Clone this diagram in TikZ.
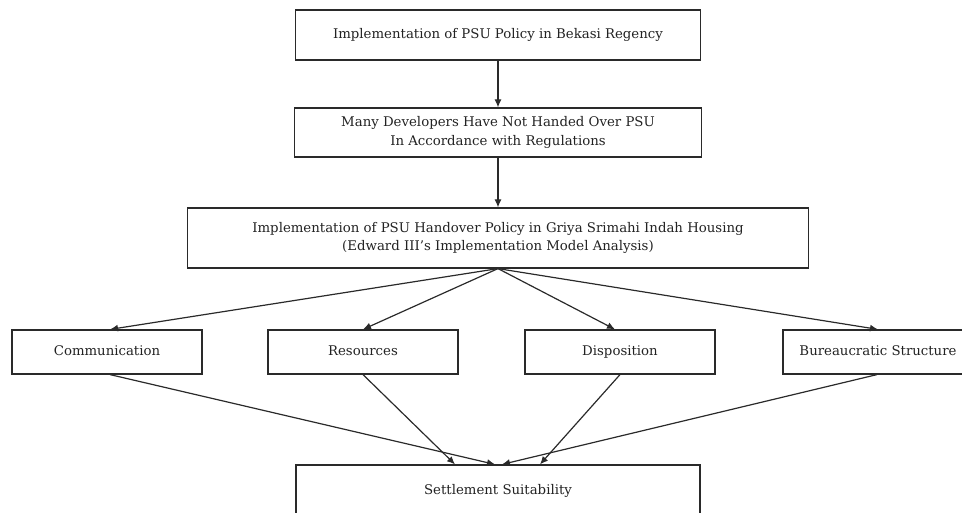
\documentclass[tikz,border=0pt]{standalone}
\usepackage{fontspec}
\setmainfont{DejaVu Serif}
\usetikzlibrary{calc,arrows.meta}
\definecolor{txt}{HTML}{222222}
\definecolor{ln}{HTML}{2A2A2A}
\tikzset{
  box/.style={draw=ln, line width=1.2pt, rectangle, inner sep=0pt, align=center,
    text=txt, font=\fontsize{13.3}{18.5}\selectfont},
  one/.style={text height=9.6pt, text depth=3pt},
  arr/.style={draw=ln, line width=1.2pt, -{Latex[length=8pt,width=7pt]}}
}
\begin{document}
\begin{tikzpicture}[x=1pt,y=-1pt]
\useasboundingbox (0,0) rectangle (962,513);
\clip (0,0) rectangle (962,513);
\node[box, one, minimum width=405pt, minimum height=50pt] (top) at (498,35) {Implementation of PSU Policy in Bekasi Regency};
\node[box, minimum width=407pt, minimum height=49pt] (dev) at (498,132.5) {Many Developers Have Not Handed Over PSU\\In Accordance with Regulations};
\node[box, minimum width=621pt, minimum height=60pt] (impl) at (498,238) {Implementation of PSU Handover Policy in Griya Srimahi Indah Housing\\(Edward III's Implementation Model Analysis)};
\node[box, one, minimum width=190pt, minimum height=44pt] (comm) at (107,352) {Communication};
\node[box, one, minimum width=190pt, minimum height=44pt] (res) at (363,352) {Resources};
\node[box, one, minimum width=190pt, minimum height=44pt] (disp) at (620,352) {Disposition};
\node[box, one, minimum width=190pt, minimum height=44pt] (bur) at (878,352) {Bureaucratic Structure};
\node[box, one, minimum width=404pt, minimum height=52pt] (set) at (498,491) {Settlement Suitability};
\draw[arr] (top.south) -- (dev.north);
\draw[arr] (dev.south) -- (impl.north);
\draw[arr] (impl.south) -- ($(comm.north)+(3,0)$);
\draw[arr] (impl.south) -- (res.north);
\draw[arr] (impl.south) -- ($(disp.north)+(-5,0)$);
\draw[arr] (impl.south) -- (bur.north);
\draw[arr] ($(comm.south)+(3,0)$) -- ($(set.north)+(-3,0)$);
\draw[arr] (res.south) -- ($(set.north)+(-43,0)$);
\draw[arr] (disp.south) -- ($(set.north)+(42,0)$);
\draw[arr] ($(bur.south)+(-1,0)$) -- ($(set.north)+(4,0)$);
\end{tikzpicture}
\end{document}
